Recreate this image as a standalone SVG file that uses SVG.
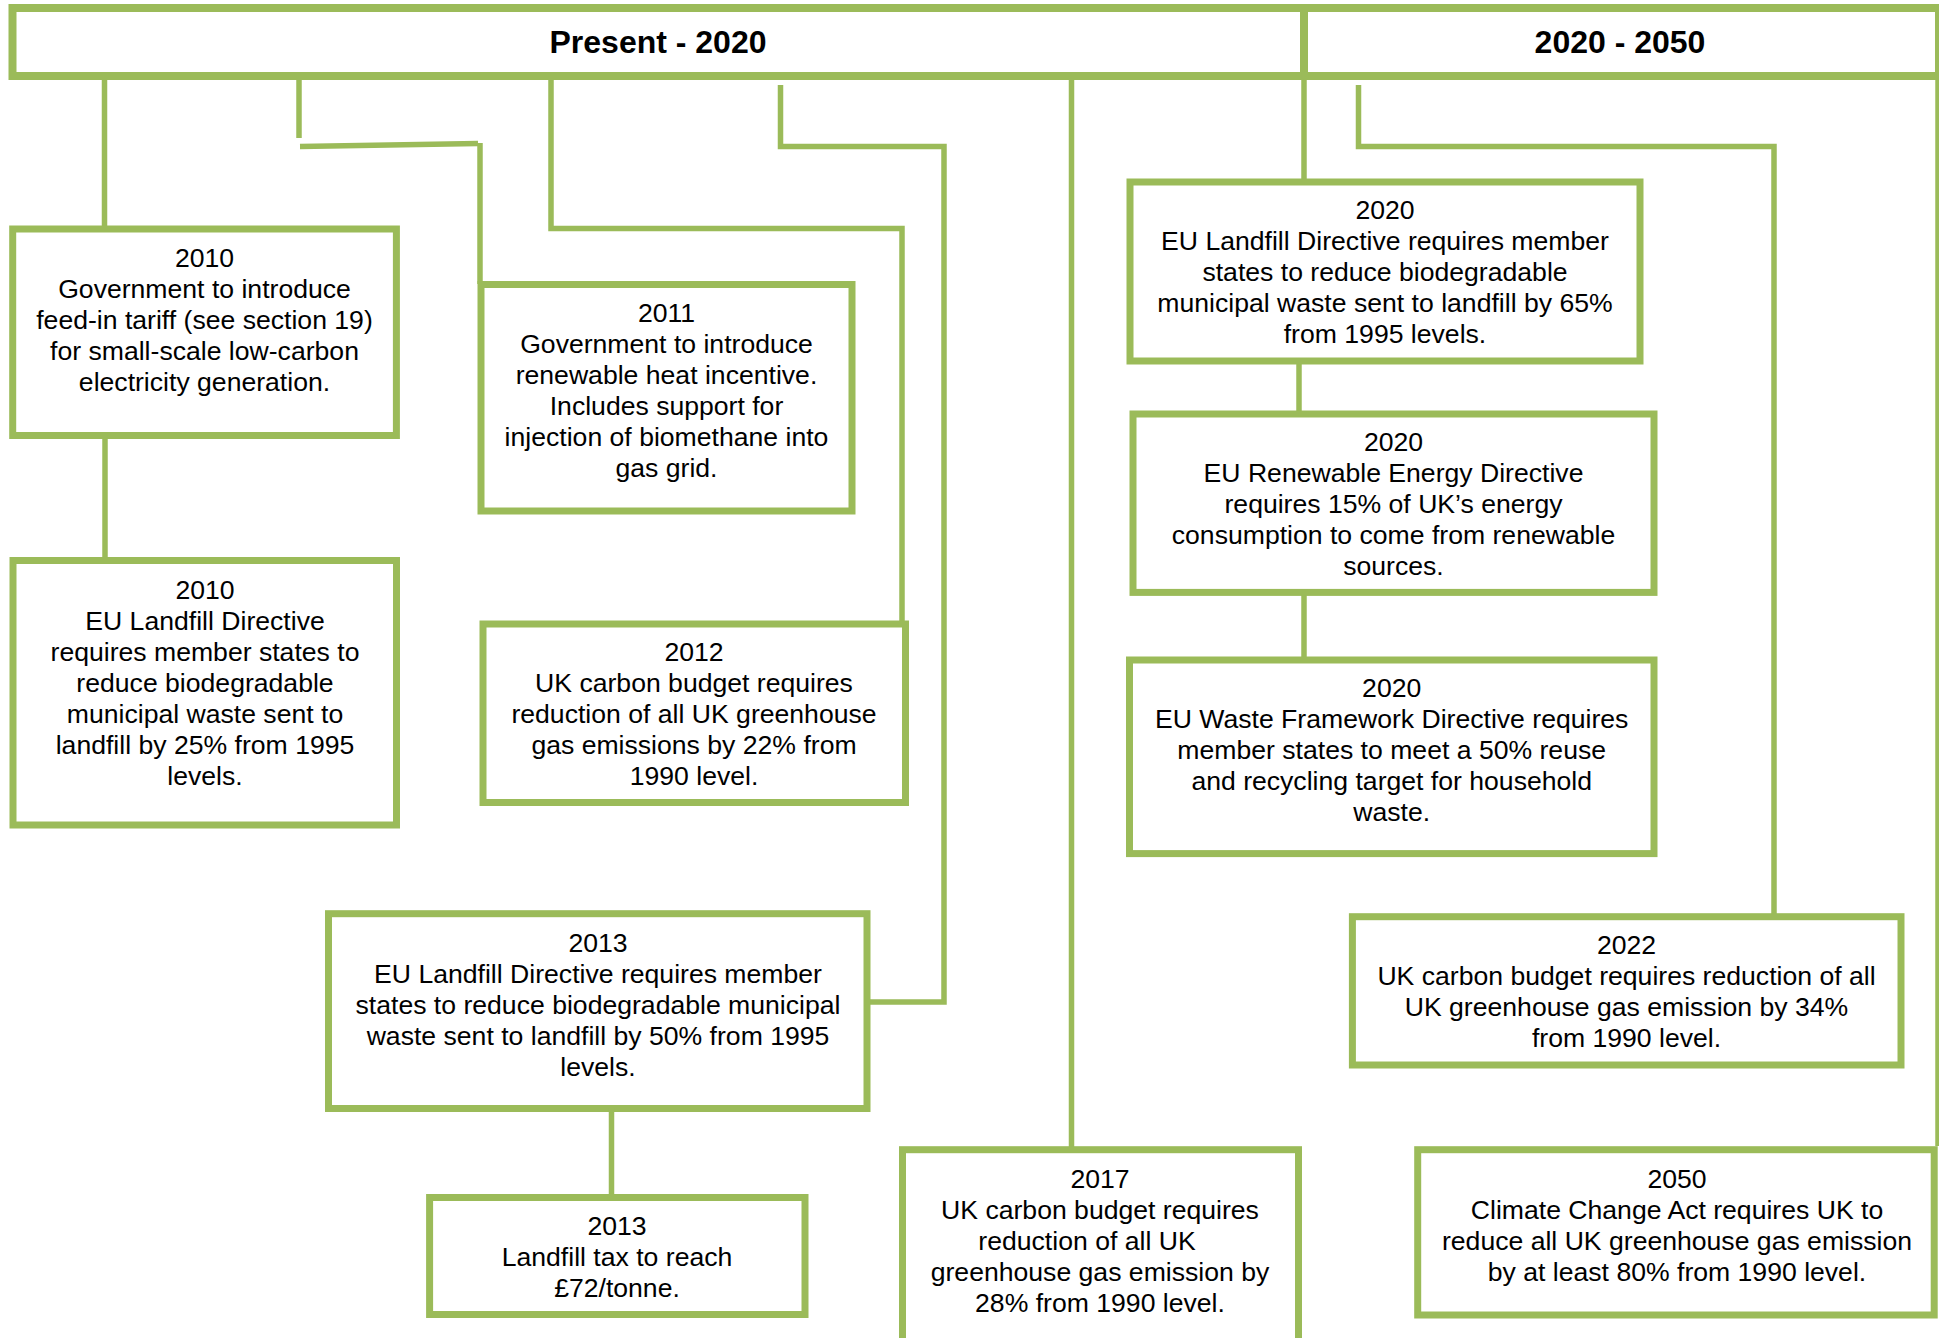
<svg xmlns="http://www.w3.org/2000/svg" width="1939" height="1338" viewBox="0 0 1939 1338">
<style>
.box{fill:#fff;stroke:#9BBB59;stroke-width:7}
.hdr{fill:#fff;stroke:#9BBB59;stroke-width:8}
.con{fill:none;stroke:#9BBB59;stroke-width:5.5}
.t{font-family:"Liberation Sans",Arial,sans-serif;font-size:26.6px;fill:#000;text-anchor:middle}
.h{font-family:"Liberation Sans",Arial,sans-serif;font-size:32px;font-weight:bold;fill:#000;text-anchor:middle}
</style>
<rect width="1939" height="1338" fill="#fff"/>
<g id="connectors">
<path class="con" d="M104.5,80 V229"/>
<path class="con" d="M105,435 V561"/>
<path class="con" d="M299,80 V138"/>
<path class="con" d="M300,146.5 L478,143.5"/>
<path class="con" d="M480,143 V284"/>
<path class="con" d="M551,80 V228.5 H902 V624"/>
<path class="con" d="M780.5,85 V146.5 H944 V1002 H867"/>
<path class="con" d="M1071.5,80 V1150"/>
<path class="con" d="M1304,80 V182"/>
<path class="con" d="M1299,361 V414"/>
<path class="con" d="M1304,592 V660"/>
<path class="con" d="M1358.5,85 V146.5 H1774 V917"/>
<path class="con" d="M1938,80 V1146"/>
</g>
<g id="header">
<rect class="hdr" x="12.5" y="8" width="1926.5" height="68"/>
<line x1="1304" y1="8" x2="1304" y2="76" stroke="#9BBB59" stroke-width="8"/>
<text class="h" x="658" y="52.5">Present - 2020</text>
<text class="h" x="1620" y="52.5">2020 - 2050</text>
</g>
<g id="n2010a">
<rect class="box" x="12.7" y="229" width="383.7" height="206.5"/>
<text class="t" y="266.5"><tspan x="204.5">2010</tspan><tspan x="204.5" dy="31">Government to introduce</tspan><tspan x="204.5" dy="31">feed-in tariff (see section 19)</tspan><tspan x="204.5" dy="31">for small-scale low-carbon</tspan><tspan x="204.5" dy="31">electricity generation.</tspan></text>
</g>
<g id="n2010b">
<rect class="box" x="13" y="560.5" width="383.5" height="264.5"/>
<text class="t" y="598.5"><tspan x="205">2010</tspan><tspan x="205" dy="31">EU Landfill Directive</tspan><tspan x="205" dy="31">requires member states to</tspan><tspan x="205" dy="31">reduce biodegradable</tspan><tspan x="205" dy="31">municipal waste sent to</tspan><tspan x="205" dy="31">landfill by 25% from 1995</tspan><tspan x="205" dy="31">levels.</tspan></text>
</g>
<g id="n2011">
<rect class="box" x="481" y="284.5" width="371" height="226.5"/>
<text class="t" y="321.5"><tspan x="666.5">2011</tspan><tspan x="666.5" dy="31">Government to introduce</tspan><tspan x="666.5" dy="31">renewable heat incentive.</tspan><tspan x="666.5" dy="31">Includes support for</tspan><tspan x="666.5" dy="31">injection of biomethane into</tspan><tspan x="666.5" dy="31">gas grid.</tspan></text>
</g>
<g id="n2012">
<rect class="box" x="483" y="624" width="422.5" height="178.5"/>
<text class="t" y="661"><tspan x="694">2012</tspan><tspan x="694" dy="31">UK carbon budget requires</tspan><tspan x="694" dy="31">reduction of all UK greenhouse</tspan><tspan x="694" dy="31">gas emissions by 22% from</tspan><tspan x="694" dy="31">1990 level.</tspan></text>
</g>
<g id="n2013a">
<rect class="box" x="328.5" y="913.7" width="538.5" height="194.8"/>
<text class="t" y="951.5"><tspan x="598">2013</tspan><tspan x="598" dy="31">EU Landfill Directive requires member</tspan><tspan x="598" dy="31">states to reduce biodegradable municipal</tspan><tspan x="598" dy="31">waste sent to landfill by 50% from 1995</tspan><tspan x="598" dy="31">levels.</tspan></text>
</g>
<g id="n2013b">
<path class="con" d="M611.5,1108 V1197"/>
<rect class="box" x="429.6" y="1197.5" width="375.4" height="117"/>
<text class="t" y="1234.5"><tspan x="617">2013</tspan><tspan x="617" dy="31">Landfill tax to reach</tspan><tspan x="617" dy="31">£72/tonne.</tspan></text>
</g>
<g id="n2017">
<rect class="box" x="902.5" y="1149.7" width="396" height="200"/>
<text class="t" y="1187.5"><tspan x="1100">2017</tspan><tspan x="1100" dy="31">UK carbon budget requires</tspan><tspan x="1087" dy="31">reduction of all UK</tspan><tspan x="1100" dy="31">greenhouse gas emission by</tspan><tspan x="1100" dy="31">28% from 1990 level.</tspan></text>
</g>
<g id="n2020a">
<rect class="box" x="1130" y="182" width="510" height="179"/>
<text class="t" y="218.5"><tspan x="1385">2020</tspan><tspan x="1385" dy="31">EU Landfill Directive requires member</tspan><tspan x="1385" dy="31">states to reduce biodegradable</tspan><tspan x="1385" dy="31">municipal waste sent to landfill by 65%</tspan><tspan x="1385" dy="31">from 1995 levels.</tspan></text>
</g>
<g id="n2020b">
<rect class="box" x="1133" y="414" width="521" height="178.4"/>
<text class="t" y="451"><tspan x="1393.5">2020</tspan><tspan x="1393.5" dy="31">EU Renewable Energy Directive</tspan><tspan x="1393.5" dy="31">requires 15% of UK’s energy</tspan><tspan x="1393.5" dy="31">consumption to come from renewable</tspan><tspan x="1393.5" dy="31">sources.</tspan></text>
</g>
<g id="n2020c">
<rect class="box" x="1129.5" y="660" width="524.5" height="193.6"/>
<text class="t" y="697"><tspan x="1391.7">2020</tspan><tspan x="1391.7" dy="31">EU Waste Framework Directive requires</tspan><tspan x="1391.7" dy="31">member states to meet a 50% reuse</tspan><tspan x="1391.7" dy="31">and recycling target for household</tspan><tspan x="1391.7" dy="31">waste.</tspan></text>
</g>
<g id="n2022">
<rect class="box" x="1352.4" y="916.7" width="548.6" height="148.3"/>
<text class="t" y="954"><tspan x="1626.5">2022</tspan><tspan x="1626.5" dy="31">UK carbon budget requires reduction of all</tspan><tspan x="1626.5" dy="31">UK greenhouse gas emission by 34%</tspan><tspan x="1626.5" dy="31">from 1990 level.</tspan></text>
</g>
<g id="n2050">
<rect class="box" x="1417.7" y="1149.7" width="516.5" height="165.3"/>
<text class="t" y="1187.5"><tspan x="1677">2050</tspan><tspan x="1677" dy="31">Climate Change Act requires UK to</tspan><tspan x="1677" dy="31">reduce all UK greenhouse gas emission</tspan><tspan x="1677" dy="31">by at least 80% from 1990 level.</tspan></text>
</g>
</svg>
